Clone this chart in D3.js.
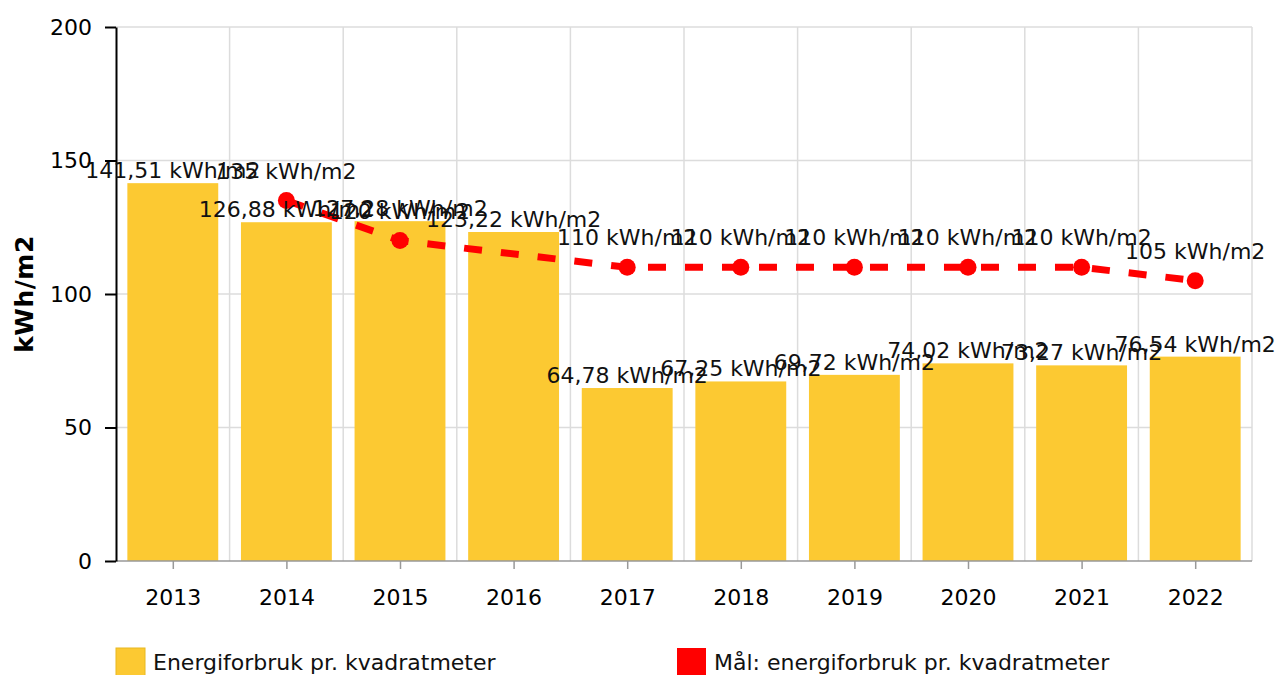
<!DOCTYPE html>
<html><head><meta charset="utf-8">
<script src="https://cdn.jsdelivr.net/npm/d3@7"></script>
<style>
html,body{margin:0;padding:0;background:#fff;}
svg{display:block;font-family:"DejaVu Sans",Verdana,sans-serif;}
</style></head>
<body>
<svg id="chart" width="1279" height="675"></svg>
<script>
const years = ["2013","2014","2015","2016","2017","2018","2019","2020","2021","2022"];
const energy = [141.51,126.88,127.28,123.22,64.78,67.25,69.72,74.02,73.27,76.54];
const target = [null,135,120,null,110,110,110,110,110,105];
const yTicks = [0,50,100,150,200];
const seriesNames = ["Energiforbruk pr. kvadratmeter","Mål: energiforbruk pr. kvadratmeter"];
const unit = " kWh/m2";
const yTitle = "kWh/m2";

(function(){
const svg = d3.select("#chart");
const pL = 116, pR = 1252, pT = 27, pB = 561;
const x = d3.scaleBand().domain(years).range([pL,pR]).paddingInner(0.2).paddingOuter(0.1);
const xc = d3.scalePoint().domain(years).range([pL + (pR-pL)/20, pR - (pR-pL)/20]);
const y = d3.scaleLinear().domain([0,200]).range([pB, pT]);
const fmt = v => String(v).replace(".", ",") + unit;
const FS = 22;

// horizontal grid
svg.append("g").selectAll("line").data(yTicks.filter(d=>d>0)).join("line")
  .attr("x1", pL).attr("x2", pR).attr("y1", d=>y(d)).attr("y2", d=>y(d))
  .attr("stroke", "#dcdcdc").attr("stroke-width", 1.5);
// vertical grid at category boundaries
const step = (pR-pL)/years.length;
const bounds = d3.range(1, years.length+1).map(i => pL + i*step);
svg.append("g").selectAll("line").data(bounds).join("line")
  .attr("x1", d=>d).attr("x2", d=>d).attr("y1", pT).attr("y2", pB)
  .attr("stroke", "#dcdcdc").attr("stroke-width", 1.5);

// bars
svg.append("g").selectAll("rect").data(energy).join("rect")
  .attr("x", (d,i)=>x(years[i])).attr("width", x.bandwidth())
  .attr("y", d=>y(d)).attr("height", d=>pB - y(d))
  .attr("fill", "#fcc932");

// x axis
const xAxis = svg.append("g").attr("transform", `translate(0,${pB})`)
  .call(d3.axisBottom(xc).tickSizeOuter(0).tickSize(8).tickPadding(20));
xAxis.select(".domain").attr("stroke", "#999").attr("stroke-width", 1.5)
  .attr("d", `M${pL},0H${pR}`);
xAxis.selectAll(".tick line").attr("stroke", "#999").attr("stroke-width", 1.5);
xAxis.selectAll("text").attr("font-size", FS).attr("fill", "#000")
  .attr("font-family", "DejaVu Sans");

// y axis
const yAxis = svg.append("g").attr("transform", `translate(${pL},0)`)
  .call(d3.axisLeft(y).tickValues(yTicks).tickSize(11).tickSizeOuter(0).tickPadding(13));
yAxis.select(".domain").attr("stroke", "#000").attr("stroke-width", 2);
yAxis.selectAll(".tick line").attr("stroke", "#000").attr("stroke-width", 2);
yAxis.selectAll("text").attr("font-size", FS).attr("fill", "#000")
  .attr("font-family", "DejaVu Sans");

// y title
svg.append("text").attr("transform", `translate(33,${(pT+pB)/2}) rotate(-90)`)
  .attr("text-anchor", "middle").attr("font-size", 25).attr("font-weight", "bold")
  .attr("letter-spacing", 0.5)
  .text(yTitle);

// target line
const pts = target.map((v,i)=>({v, yr: years[i]})).filter(d=>d.v!==null);
const line = d3.line().x(d=>xc(d.yr)).y(d=>y(d.v));
svg.append("path").datum(pts).attr("d", line)
  .attr("fill", "none").attr("stroke", "#ff0000").attr("stroke-width", 7)
  .attr("stroke-dasharray", "18,19");
svg.append("g").selectAll("circle").data(pts).join("circle")
  .attr("cx", d=>xc(d.yr)).attr("cy", d=>y(d.v)).attr("r", 8.5).attr("fill", "#ff0000");

// bar labels
svg.append("g").selectAll("text").data(energy).join("text")
  .attr("x", (d,i)=>xc(years[i])).attr("y", d=>y(d)-5)
  .attr("text-anchor", "middle").attr("font-size", FS).attr("fill", "#111")
  .text(d=>fmt(d));
// target labels
svg.append("g").selectAll("text").data(pts).join("text")
  .attr("x", d=>xc(d.yr)).attr("y", d=>y(d.v)-22)
  .attr("text-anchor", "middle").attr("font-size", FS).attr("fill", "#111")
  .text(d=>fmt(d.v));

// legend
const legColors = ["#fcc932", "#ff0000"];
const legX = [116, 677];
const lg = svg.append("g").selectAll("g").data(seriesNames).join("g")
  .attr("transform", (d,i)=>`translate(${legX[i]},648)`);
lg.append("rect").attr("width", 29).attr("height", 30)
  .attr("fill", (d,i)=>legColors[i])
  .attr("stroke", (d,i)=> i===0 ? "#e8b820" : "none").attr("stroke-width", 1);
lg.append("text").attr("x", 37).attr("y", 22).attr("font-size", FS).attr("fill", "#111")
  .text(d=>d);
})();
</script>
</body></html>
